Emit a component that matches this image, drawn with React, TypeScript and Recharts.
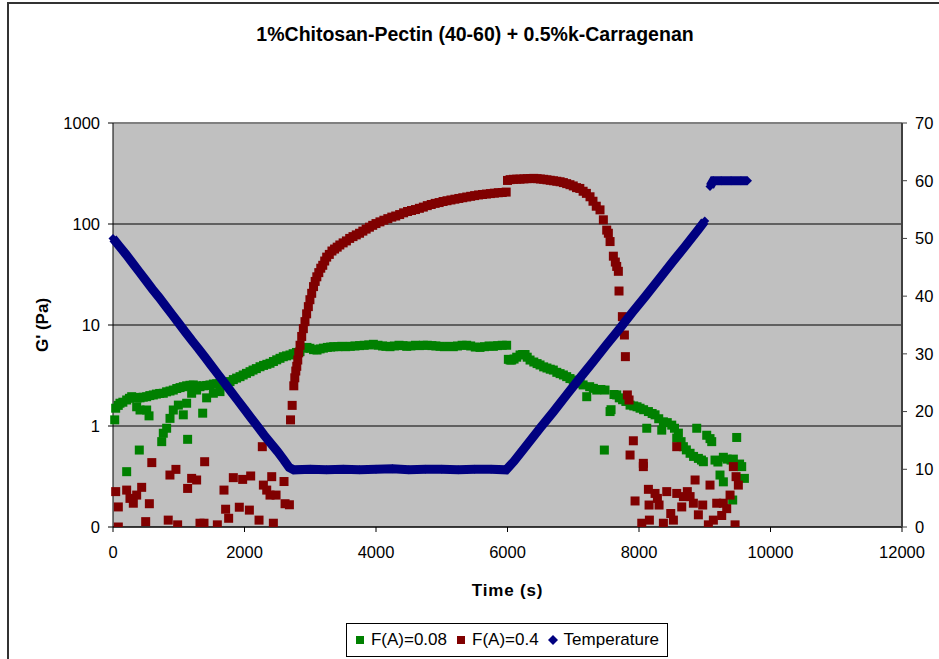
import React from "react";
import {
  CartesianGrid,
  Legend,
  ReferenceLine,
  Scatter,
  ScatterChart,
  XAxis,
  YAxis,
} from "recharts";

// Rheology run: G' of two samples (log axis) with the temperature ramp on the right axis.
const TITLE = "1%Chitosan-Pectin (40-60) + 0.5%k-Carragenan";

const GREEN = "#008000";
const RED = "#800000";
const NAVY = "#000080";
const FONT = "'Liberation Sans', Arial, sans-serif";

const timeTicks = [0, 2000, 4000, 6000, 8000, 10000, 12000];
const gTicks = [0.1, 1, 10, 100, 1000];
const tempTicks = [0, 10, 20, 30, 40, 50, 60, 70];

// F(A)=0.08 — time (s) / G' (Pa)
const greenTime = [
  26, 41, 80, 106, 150, 208, 208, 250, 284, 330,
  360, 370, 400, 411, 411, 460, 512, 512, 548, 560,
  613, 660, 710, 741, 765, 765, 815, 816, 867, 867,
  917, 917, 970, 994, 1020, 1069, 1069, 1120, 1120, 1135,
  1170, 1196, 1221, 1272, 1272, 1323, 1364, 1375, 1424, 1425,
  1475, 1526, 1527, 1577, 1627, 1627, 1680, 1730, 1780, 1830,
  1880, 1932, 1980, 2030, 2084, 2130, 2180, 2236, 2290, 2340,
  2388, 2440, 2490, 2540, 2590, 2640, 2692, 2740, 2790, 2844,
  2900, 2950, 2996, 3050, 3103, 3150, 3200, 3260, 3310, 3357,
  3420, 3480, 3540, 3610, 3680, 3750, 3820, 3890, 3960, 4030,
  4100, 4150, 4213, 4280, 4350, 4410, 4467, 4530, 4600, 4660,
  4720, 4780, 4850, 4910, 4974, 5040, 5110, 5176, 5240, 5310,
  5379, 5440, 5510, 5582, 5650, 5720, 5785, 5850, 5920, 5987,
  6013, 6040, 6064, 6100, 6140, 6191, 6230, 6267, 6300, 6343,
  6400, 6450, 6495, 6550, 6600, 6650, 6697, 6750, 6800, 6850,
  6900, 6950, 7000, 7050, 7103, 7150, 7205, 7250, 7306, 7357,
  7420, 7473, 7483, 7560, 7575, 7620, 7661, 7700, 7750, 7800,
  7864, 7920, 7970, 8016, 8070, 8118, 8143, 8200, 8244, 8300,
  8346, 8371, 8430, 8498, 8540, 8574, 8599, 8640, 8675, 8720,
  8777, 8830, 8878, 8903, 8950, 8979, 9030, 9080, 9106, 9156,
  9200, 9232, 9283, 9283, 9340, 9400, 9425, 9435, 9486, 9530,
  9562, 9603,
];
const greenG = [
  1.15, 1.5, 1.6, 1.68, 1.72, 1.81, 0.353, 1.88, 1.95, 1.92,
  1.55, 1.9, 0.578, 1.9, 1.44, 1.93, 1.95, 1.44, 1.26, 2.0,
  2.03, 2.07, 2.1, 0.7, 2.11, 0.848, 2.18, 0.95, 1.19, 2.22,
  1.44, 2.27, 2.35, 1.61, 2.4, 1.29, 2.45, 1.68, 2.5, 0.738,
  2.53, 2.11, 2.55, 2.27, 2.5, 2.45, 1.34, 2.5, 1.9, 2.52,
  2.55, 2.11, 2.6, 2.62, 2.19, 2.65, 2.7, 2.72, 2.75, 2.88,
  2.98, 3.08, 3.2, 3.32, 3.45, 3.58, 3.7, 3.86, 3.98, 4.08,
  4.18, 4.35, 4.52, 4.68, 4.85, 4.95, 5.05, 5.2, 5.35, 5.45,
  5.9, 6.0, 5.88, 5.7, 5.65, 5.8, 5.9, 6.0, 6.05, 6.1,
  6.1, 6.15, 6.1, 6.15, 6.2, 6.25, 6.3, 6.35, 6.44, 6.3,
  6.2, 6.15, 6.1, 6.2, 6.3, 6.25, 6.15, 6.2, 6.3, 6.25,
  6.3, 6.3, 6.25, 6.2, 6.15, 6.1, 6.15, 6.1, 6.2, 6.3,
  6.3, 6.2, 6.05, 6.0, 6.1, 6.2, 6.15, 6.25, 6.3, 6.3,
  4.57, 4.5, 4.5, 4.6, 4.8, 5.05, 5.1, 5.1, 4.8, 4.5,
  4.3, 4.15, 4.02, 3.85, 3.75, 3.65, 3.58, 3.4, 3.3, 3.2,
  3.08, 2.95, 2.85, 2.75, 2.65, 2.55, 1.95, 2.45, 2.36, 2.27,
  2.3, 0.578, 2.27, 1.39, 1.45, 2.05, 2.03, 1.9, 1.82, 1.75,
  1.61, 1.58, 1.55, 1.5, 1.45, 0.95, 1.39, 1.33, 1.29, 1.18,
  0.91, 1.1, 1.08, 1.02, 0.95, 0.76, 0.85, 0.7, 0.624, 0.58,
  0.537, 0.5, 0.95, 0.478, 0.46, 0.443, 0.81, 0.75, 0.7, 0.46,
  0.44, 0.327, 0.49, 0.28, 0.47, 0.46, 0.185, 0.47, 0.77, 0.42,
  0.396, 0.303,
];

// F(A)=0.4 — time (s) / G' (Pa)
const redTime = [
  41, 81, 81, 208, 258, 309, 360, 436, 497, 553,
  590, 840, 866, 957, 983, 1135, 1196, 1272, 1323, 1384,
  1394, 1587, 1688, 1713, 1759, 1830, 1921, 1972, 2074, 2094,
  2221, 2271, 2287, 2338, 2388, 2414, 2439, 2480, 2601, 2617,
  2683, 2700, 2725, 2750, 2765, 2780, 2795, 2810, 2825, 2845,
  2870, 2895, 2920, 2945, 2971, 2995, 3022, 3050, 3075, 3100,
  3130, 3160, 3190, 3220, 3250, 3290, 3330, 3370, 3410, 3450,
  3500, 3550, 3600, 3650, 3700, 3750, 3800, 3850, 3900, 3950,
  4000, 4060, 4120, 4180, 4240, 4300, 4360, 4420, 4480, 4540,
  4600, 4660, 4720, 4780, 4840, 4900, 4960, 5020, 5080, 5140,
  5200, 5260, 5320, 5380, 5440, 5500, 5560, 5620, 5680, 5740,
  5800, 5860, 5920, 5980, 6000, 6040, 6090, 6140, 6190, 6250,
  6300, 6350, 6400, 6450, 6500, 6550, 6600, 6650, 6700, 6750,
  6800, 6850, 6900, 6950, 7000, 7050, 7100, 7150, 7200, 7255,
  7300, 7350, 7407, 7458, 7509, 7534, 7560, 7610, 7640, 7661,
  7686, 7696, 7747, 7778, 7793, 7823, 7849, 7864, 7914, 7940,
  8042, 8066, 8066, 8143, 8153, 8158, 8244, 8280, 8305, 8371,
  8422, 8483, 8523, 8574, 8574, 8650, 8675, 8735, 8777, 8827,
  8853, 8903, 8969, 9055, 9080, 9131, 9182, 9258, 9283, 9334,
  9385, 9435, 9461, 9476, 9511,
];
const redG = [
  0.224, 0.158, 0.1, 0.232, 0.192, 0.172, 0.207, 0.247, 0.113, 0.17,
  0.434, 0.117, 0.327, 0.372, 0.105, 0.241, 0.303, 0.292, 0.109, 0.109,
  0.443, 0.105, 0.232, 0.15, 0.122, 0.308, 0.157, 0.296, 0.147, 0.32,
  0.117, 0.624, 0.26, 0.232, 0.207, 0.315, 0.109, 0.207, 0.282, 0.17,
  0.166, 1.15, 1.6, 2.5, 3.0, 3.5, 3.9, 4.5, 5.3, 6.3,
  7.7, 9.2, 10.8, 12.9, 15.2, 17.8, 20.6, 24, 27, 30,
  33, 36.5, 39, 43, 47, 50, 54, 56.5, 59, 62,
  65, 68, 72, 75, 78, 81, 85, 89, 93, 97,
  101, 105, 109, 113, 117, 120, 124, 129, 133, 136,
  139, 143, 147, 152, 156, 160, 163, 167, 170, 173,
  176, 179, 182, 185, 188, 191, 194, 196, 198, 200,
  202, 204, 205, 207, 270, 275, 277, 278, 278, 280,
  281, 282, 283, 281, 279, 277, 274, 271, 268, 265,
  262, 257, 251, 245, 238, 229, 225, 211, 201, 186,
  168, 150, 138, 110, 87, 81, 67, 48, 42, 38,
  34, 21.7, 12.1, 7.96, 4.86, 2.03, 1.81, 0.516, 0.714, 0.181,
  0.109, 0.427, 0.396, 0.236, 0.165, 0.117, 0.215, 0.192, 0.165, 0.109,
  0.224, 0.136, 0.117, 0.215, 0.624, 0.158, 0.2, 0.224, 0.2, 0.172,
  0.292, 0.132, 0.165, 0.105, 0.26, 0.117, 0.172, 0.13, 0.172, 0.152,
  0.207, 0.396, 0.105, 0.315, 0.26,
];

// Temperature ramp — time (s) / °C
const tempTime = [
  0, 100, 200, 300, 400, 500, 600, 700, 800, 900,
  1000, 1100, 1200, 1300, 1400, 1500, 1600, 1700, 1800, 1900,
  2000, 2100, 2200, 2300, 2400, 2500, 2600, 2680, 2750, 3000,
  3250, 3500, 3750, 4000, 4250, 4500, 4750, 5000, 5250, 5500,
  5750, 5980, 6100, 6300, 6500, 6700, 6900, 7100, 7300, 7500,
  7700, 7900, 8100, 8300, 8500, 8700, 8900, 9000,
];
const tempC = [
  50, 48.6, 47.2, 45.7, 44.2, 42.7, 41.2, 39.8, 38.3, 36.8,
  35.3, 33.8, 32.3, 30.9, 29.4, 27.9, 26.4, 24.9, 23.4, 21.9,
  20.4, 18.9, 17.4, 15.9, 14.5, 13.1, 11.6, 10.3, 9.9, 10,
  9.9, 10, 9.9, 10, 10.1, 9.9, 10, 10, 9.9, 10,
  10, 9.9, 11.4, 14.3, 17.2, 20, 22.9, 25.8, 28.6, 31.5,
  34.3, 37.2, 40, 42.9, 45.8, 48.6, 51.5, 53,
];
// Hold at 60 °C after the ramp (recorded as a separate step)
const holdTime = [9080, 9130, 9250, 9400, 9550, 9650];
const holdC = [59, 60, 60, 60, 60, 60];

const zip = (xs: number[], ys: number[], key: string) =>
  xs.map((t, i) => ({ t, [key]: ys[i] }));

const greenData = zip(greenTime, greenG, "g");
const redData = zip(redTime, redG, "g");
const tempData = zip(tempTime, tempC, "c");
const holdData = zip(holdTime, holdC, "c");

const tickStyle = { fill: "#000", fontSize: 16.5, fontFamily: FONT };

// Excel-style markers: 9px squares, small diamonds hidden inside the thick temperature trace.
function squareMark(color: string) {
  return (p: any) => (
    <rect x={p.cx - 4.5} y={p.cy - 4.5} width={9} height={9} fill={color} />
  );
}
function diamondMark(p: any) {
  const r = 4.5;
  return (
    <polygon
      points={`${p.cx},${p.cy - r} ${p.cx + r},${p.cy} ${p.cx},${p.cy + r} ${p.cx - r},${p.cy}`}
      fill={NAVY}
    />
  );
}

function LegendBox({ payload }: { payload?: any[] }) {
  const items = (payload ?? []).filter((p) => p.type !== "none");
  return (
    <div
      style={{
        border: "1px solid #000",
        background: "#fff",
        height: 32,
        display: "flex",
        alignItems: "center",
        justifyContent: "center",
        gap: 9,
        fontFamily: FONT,
        fontSize: 17,
        color: "#000",
      }}
    >
      {items.map((p) => (
        <span key={p.value} style={{ display: "flex", alignItems: "center", gap: 6 }}>
          <svg width={10} height={10}>
            {p.type === "diamond" ? (
              <polygon points="5,0 10,5 5,10 0,5" fill={p.color} />
            ) : (
              <rect x={1} y={1} width={8} height={8} fill={p.color} />
            )}
          </svg>
          {p.value}
        </span>
      ))}
    </div>
  );
}

export default function App() {
  return (
    <div
      style={{
        position: "absolute",
        left: 0,
        top: 0,
        width: 939,
        height: 659,
        background: "#fff",
        overflow: "hidden",
      }}
    >
      <div
        style={{
          position: "absolute",
          left: 7,
          top: 2,
          width: 1000,
          height: 800,
          borderLeft: "2px solid #333",
          borderTop: "2px solid #333",
        }}
      />
      <div
        style={{
          position: "absolute",
          left: 175,
          top: 23,
          width: 600,
          textAlign: "center",
          fontFamily: FONT,
          fontWeight: "bold",
          fontSize: 19.5,
          lineHeight: "22px",
          color: "#000",
        }}
      >
        {TITLE}
      </div>
      <ScatterChart
        width={939}
        height={659}
        margin={{ top: 123, right: 7, bottom: 62, left: 13 }}
        style={{ position: "absolute", left: 0, top: 0 }}
      >
        <CartesianGrid
          yAxisId="g"
          vertical={false}
          stroke="#000"
          fill="#C0C0C0"
          fillOpacity={1}
        />
        <XAxis
          dataKey="t"
          type="number"
          domain={[0, 12000]}
          ticks={timeTicks}
          height={70}
          tickSize={5}
          tickMargin={14}
          tick={tickStyle}
          axisLine={{ stroke: "#000" }}
          tickLine={{ stroke: "#000" }}
          label={{
            value: "Time (s)",
            position: "insideBottom",
            offset: 1,
            style: {
              fontFamily: FONT,
              fontWeight: "bold",
              fontSize: 17,
              letterSpacing: 0.8,
              fill: "#000",
            },
          }}
        />
        <YAxis
          yAxisId="g"
          dataKey="g"
          type="number"
          scale="log"
          domain={[0.1, 1000]}
          allowDataOverflow
          ticks={gTicks}
          width={100}
          tickSize={5}
          tickMargin={8}
          tick={tickStyle}
          tickFormatter={(v: number) => (v < 1 ? "0" : String(v))}
          axisLine={{ stroke: "#000" }}
          tickLine={{ stroke: "#000" }}
          label={{
            value: "G' (Pa)",
            angle: -90,
            position: "insideLeft",
            offset: 29,
            style: {
              textAnchor: "middle",
              fontFamily: FONT,
              fontWeight: "bold",
              fontSize: 17,
              fill: "#000",
            },
          }}
        />
        <YAxis
          yAxisId="t"
          dataKey="c"
          orientation="right"
          type="number"
          domain={[0, 70]}
          ticks={tempTicks}
          width={30}
          tickSize={5}
          tickMargin={8}
          tick={tickStyle}
          axisLine={{ stroke: "#404040", strokeWidth: 2 }}
          tickLine={{ stroke: "#404040" }}
        />
        <ReferenceLine yAxisId="g" y={1000} stroke="#808080" strokeWidth={2} />
        <Scatter
          name="F(A)=0.08"
          data={greenData}
          yAxisId="g"
          fill={GREEN}
          shape={squareMark(GREEN)}
          legendType="square"
          isAnimationActive={false}
        />
        <Scatter
          name="F(A)=0.4"
          data={redData}
          yAxisId="g"
          fill={RED}
          shape={squareMark(RED)}
          legendType="square"
          isAnimationActive={false}
        />
        <Scatter
          name="Temperature"
          data={tempData}
          yAxisId="t"
          fill={NAVY}
          shape={diamondMark}
          legendType="diamond"
          line={{ stroke: NAVY, strokeWidth: 9 }}
          isAnimationActive={false}
        />
        <Scatter
          name="Temperature hold"
          data={holdData}
          yAxisId="t"
          fill={NAVY}
          shape={diamondMark}
          legendType="none"
          line={{ stroke: NAVY, strokeWidth: 9 }}
          isAnimationActive={false}
        />
        <Legend
          layout="horizontal"
          verticalAlign="middle"
          align="center"
          wrapperStyle={{ left: 346, top: 623, width: 322, height: 34 }}
          content={(props: any) => <LegendBox payload={props.payload} />}
        />
      </ScatterChart>
    </div>
  );
}
